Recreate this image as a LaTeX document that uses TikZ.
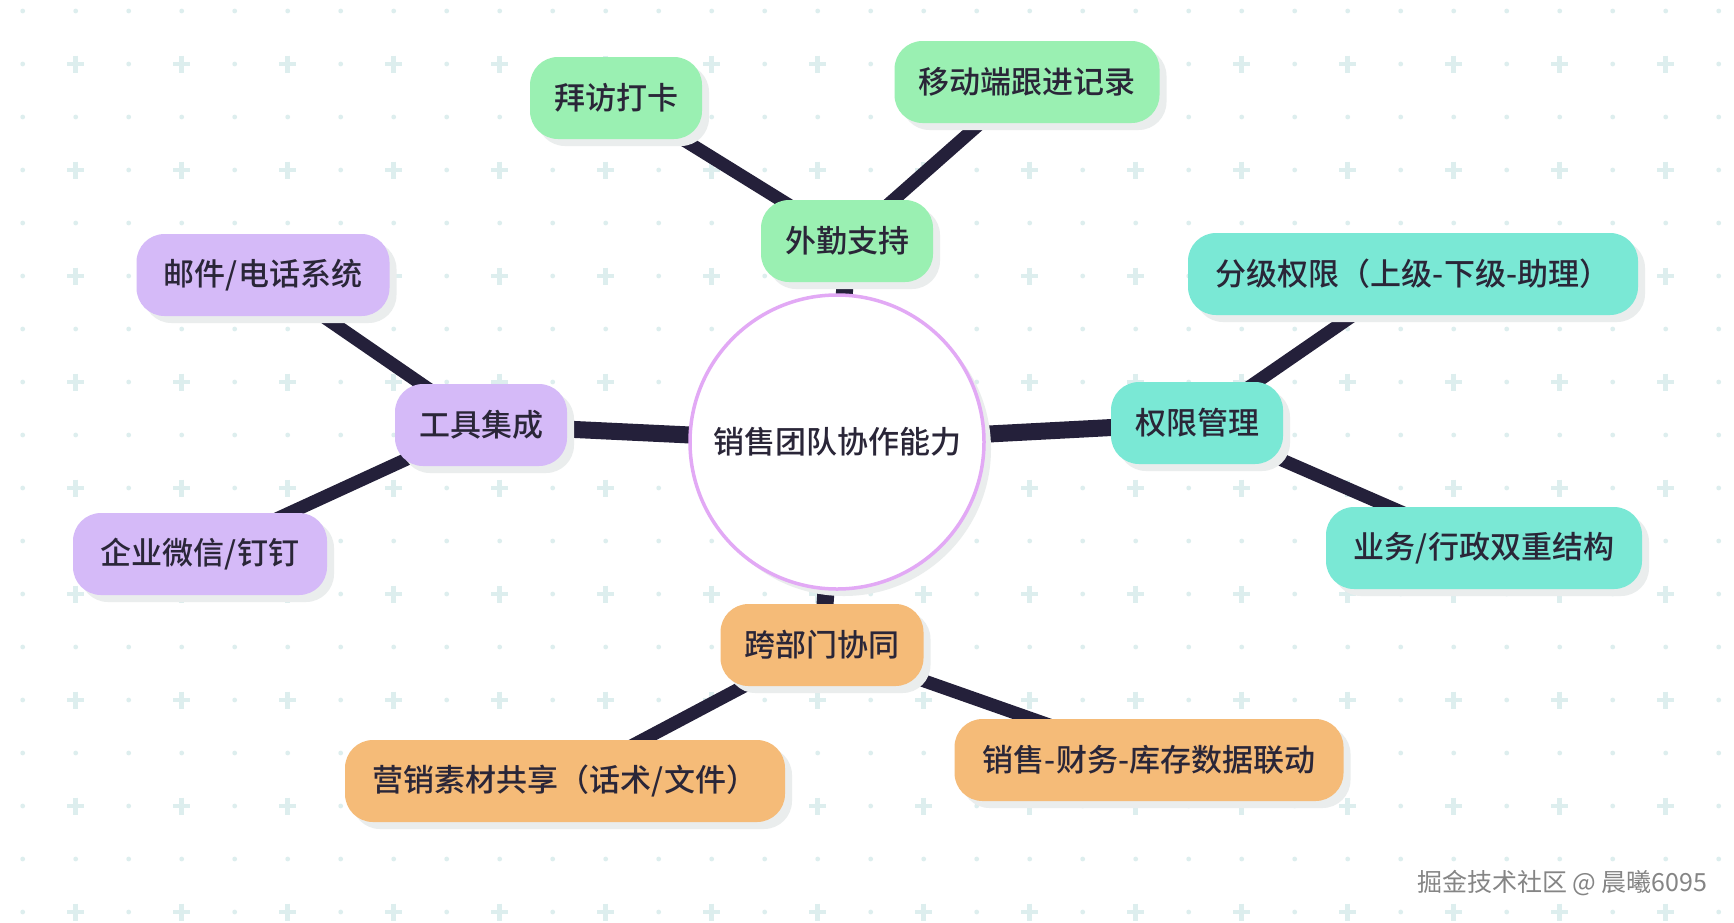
\documentclass[tikz,border=0pt]{standalone}
\usepackage{fontspec}
\setmainfont{Noto Sans CJK SC}[BoldFont={Noto Sans CJK SC Medium}]
\usetikzlibrary{shadows}
\definecolor{mapgreen}{HTML}{9AF0B2}
\definecolor{mappurple}{HTML}{D5BAF8}
\definecolor{mapteal}{HTML}{7AE8D5}
\definecolor{maporange}{HTML}{F5BB78}
\definecolor{mapink}{HTML}{2A2638}
\definecolor{mapline}{HTML}{24203A}
\definecolor{mapring}{HTML}{E2A9F5}
\definecolor{mapdot}{HTML}{DDEEEE}
\definecolor{mapshade}{HTML}{EAEDED}
\pgfdeclarelayer{grid}
\pgfdeclarelayer{links}
\pgfsetlayers{grid,links,main}

\begin{document}
\begin{tikzpicture}[
  x=1pt, y=-1pt,
  font=\fontsize{31}{37}\selectfont\bfseries,
  topic/.style={rounded corners=28pt, fill=#1, text=mapink, minimum height=82pt,
                inner xsep=24pt,
                drop shadow={shadow xshift=7pt, shadow yshift=-7pt, fill=mapshade, opacity=1}},
  hub/.style={circle, draw=mapring, line width=3.5pt, fill=white, text=mapink,
              minimum size=294pt, inner sep=0pt,
              drop shadow={shadow xshift=7pt, shadow yshift=-7pt, fill=mapshade, opacity=1}},
  link/.style={line width=17pt, draw=mapline},
  twig/.style={line width=13pt, draw=mapline},
  credit/.style={font=\fontsize{25}{29}\selectfont, text=black!48}
]
  \useasboundingbox (0,0) rectangle (1734,922);
  \begin{pgfonlayer}{grid}
    \fill[white] (0,0) rectangle (1734,922);
    \foreach \i in {0,...,32}
      \foreach \j in {0,...,17}
        \fill[mapdot] (22.7+53*\i, 11+53*\j) circle[radius=2.4pt];
    \foreach \i in {1,3,...,31}
      \foreach \j in {1,3,...,17}
        \draw[mapdot, line width=4.5pt] (14.2+53*\i, 11+53*\j) -- (31.2+53*\i, 11+53*\j)
          (22.7+53*\i, 2.5+53*\j) -- (22.7+53*\i, 19.5+53*\j);
  \end{pgfonlayer}

  \node[hub] (center) at (837,442) {销售团队协作能力};

  \node[topic=mapgreen] (field) at (847,241) {外勤支持};
  \node[topic=mapgreen] (visit) at (616,98) {拜访打卡};
  \node[topic=mapgreen] (mobile) at (1027,82) {移动端跟进记录};

  \node[topic=mappurple] (tools) at (481,425) {工具集成};
  \node[topic=mappurple, minimum width=253pt] (mail) at (263,275) {邮件/电话系统};
  \node[topic=mappurple, minimum width=254pt] (wecom) at (200,554) {企业微信/钉钉};

  \node[topic=mapteal] (perm) at (1197,423) {权限管理};
  \node[topic=mapteal, minimum width=450pt] (levels) at (1413,274) {分级权限（上级-下级-助理）};
  \node[topic=mapteal, minimum width=316pt] (dual) at (1484,548) {业务/行政双重结构};

  \node[topic=maporange] (cross) at (822,645) {跨部门协同};
  \node[topic=maporange, minimum width=440pt] (material) at (565,781) {营销素材共享（话术/文件）};
  \node[topic=maporange, minimum width=389pt] (datalink) at (1149,760) {销售-财务-库存数据联动};

  \begin{pgfonlayer}{links}
    \draw[link] (center.center) -- (field.center);
    \draw[link] (center.center) -- (tools.center);
    \draw[link] (center.center) -- (perm.center);
    \draw[link] (center.center) -- (cross.center);
    \draw[twig] (field.center) -- (visit.center);
    \draw[twig] (field.center) -- (mobile.center);
    \draw[twig] (tools.center) -- (mail.center);
    \draw[twig] (tools.center) -- (wecom.center);
    \draw[twig] (perm.center) -- (levels.center);
    \draw[twig] (perm.center) -- (dual.center);
    \draw[twig] (cross.center) -- (material.center);
    \draw[twig] (cross.center) -- (datalink.center);
  \end{pgfonlayer}

  \node[credit, anchor=east] (mark) at (1711,883) {掘金技术社区 @ 晨曦6095};
\end{tikzpicture}
\end{document}
